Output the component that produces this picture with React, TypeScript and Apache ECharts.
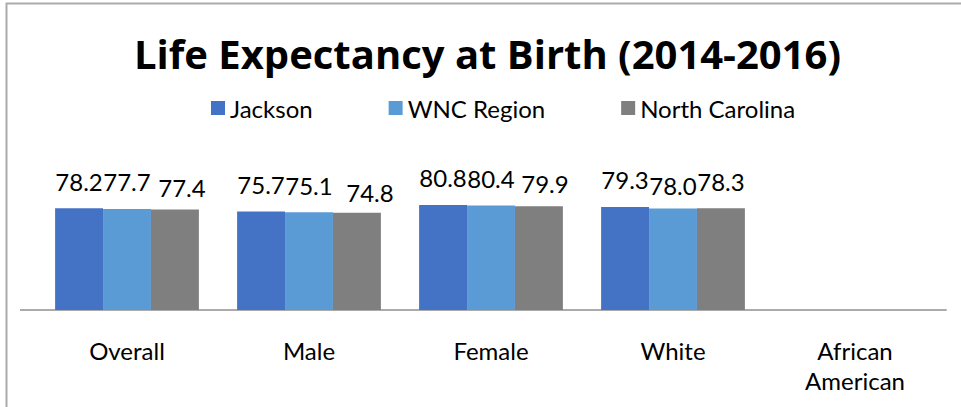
import React, { useEffect, useRef } from "react";
import * as echarts from "echarts";

const categories = ["Overall", "Male", "Female", "White", "African\nAmerican"];
const seriesNames = ["Jackson", "WNC Region", "North Carolina"];
const jackson = [78.2, 75.7, 80.8, 79.3, null];
const wnc = [77.7, 75.1, 80.4, 78.0, null];
const northCarolina = [77.4, 74.8, 79.9, 78.3, null];
const colors = ["#4472C4", "#5B9BD5", "#7F7F7F"];
// label nudges [dx, dy] per series / category, mimicking the reference's label placement
const labelNudges: number[][][] = [
  [[0, 0], [0, 0], [0, 0], [0, 0], [0, 0]],
  [[0, 0], [0, 0], [0, 0], [0, 4], [0, 0]],
  [[7, 5], [13, 7], [6, 4], [0, 0], [0, 0]],
];

const FONT = "Lato, 'Open Sans', sans-serif";
const TITLE_FONT = "'Open Sans', Lato, sans-serif";

export default function App() {
  const ref = useRef<HTMLDivElement>(null);
  useEffect(() => {
    if (!ref.current) return;
    const chart = echarts.init(ref.current, null, { renderer: "svg" });
    const values = [jackson, wnc, northCarolina];
    chart.setOption({
      animation: false,
      backgroundColor: "#ffffff",
      textStyle: { fontFamily: FONT },
      title: {
        text: "Life Expectancy at Birth (2014-2016)",
        left: 134,
        top: 33,
        padding: 0,
        textStyle: { fontFamily: TITLE_FONT, fontWeight: "bold", fontSize: 40, color: "#000" },
      },
      legend: {
        left: 211,
        top: 96,
        padding: 0,
        itemWidth: 14,
        itemHeight: 14,
        itemGap: 76,
        icon: "rect",
        textStyle: { fontFamily: FONT, fontSize: 24, color: "#000" },
        data: seriesNames,
      },
      graphic: [
        {
          type: "polyline",
          shape: { points: [[6.5, 420], [6.5, 3.5], [970, 3.5]] },
          style: { stroke: "#ababab", lineWidth: 2, fill: "none" },
          silent: true,
        },
        {
          type: "line",
          shape: { x1: 20, y1: 310, x2: 37, y2: 310 },
          style: { stroke: "#ababab", lineWidth: 2 },
          silent: true,
        },
      ],
      grid: { left: 36, right: 15, top: 180, bottom: 97 },
      xAxis: {
        type: "category",
        data: categories,
        axisLine: { show: true, lineStyle: { color: "#ababab", width: 2 } },
        axisTick: { show: false },
        axisLabel: {
          color: "#000",
          fontSize: 24,
          fontFamily: FONT,
          margin: 25,
          lineHeight: 30,
          interval: 0,
        },
      },
      yAxis: {
        type: "value",
        min: 0,
        max: 100,
        show: false,
        splitLine: { show: false },
      },
      series: seriesNames.map((name, i) => ({
        name,
        type: "bar",
        data: values[i].map((v, j) => ({
          value: v,
          label: { offset: labelNudges[i][j] },
        })),
        barGap: "0%",
        barCategoryGap: "21%",
        itemStyle: { color: colors[i] },
        label: {
          show: true,
          position: "top",
          distance: 15,
          color: "#000",
          fontSize: 24,
          fontFamily: FONT,
          formatter: (p: any) => (p.value == null ? "" : Number(p.value).toFixed(1)),
        },
      })),
    });
    return () => chart.dispose();
  }, []);
  return (
    <div
      ref={ref}
      style={{ position: "fixed", left: 0, top: 0, width: 961, height: 407 }}
    />
  );
}
